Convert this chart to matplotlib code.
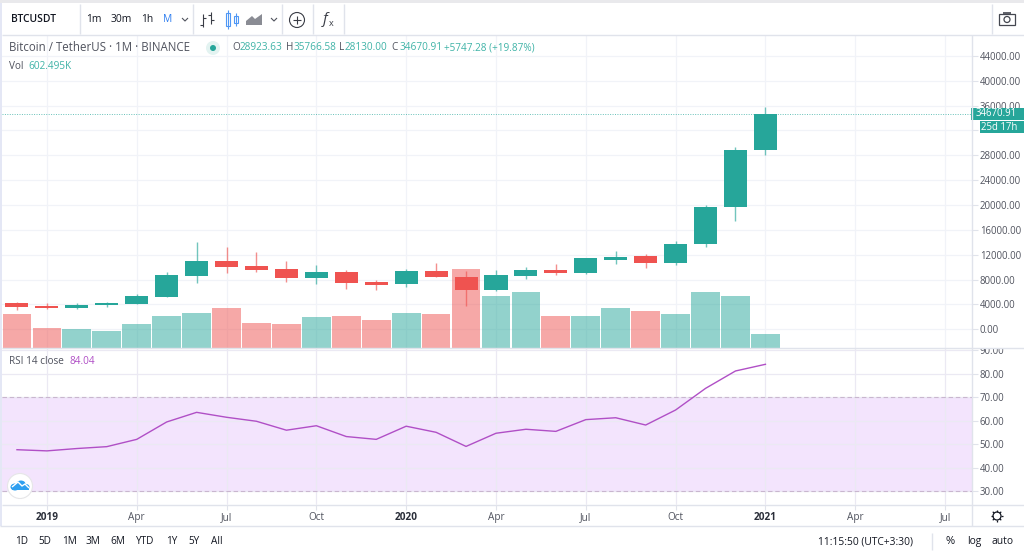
import numpy as np
import matplotlib
matplotlib.use("Agg")
import matplotlib.pyplot as plt
from matplotlib.patches import Rectangle, Circle, Ellipse, Polygon

plt.rcParams['font.family'] = ['Open Sans', 'DejaVu Sans']

W, H = 1024, 555

# monthly candles, Dec 2018 -> Jan 2021
opens = [4170, 3740, 3420, 3850, 4050, 5240, 8570, 10940, 10170, 9690, 8240, 9220, 7610,
         7230, 9370, 8470, 6300, 8570, 9490, 9050, 11220, 11750, 10650, 13660, 19750, 28923.63]
highs = [4330, 4170, 4260, 4320, 5670, 9220, 14050, 13200, 12440, 11000, 10390, 9540, 7930,
         9650, 10620, 9330, 9540, 10070, 10510, 11470, 12540, 12120, 14170, 20020, 29310, 35766.58]
lows = [3090, 3210, 3270, 3620, 4050, 5220, 7490, 9110, 9270, 7660, 7290, 6430, 6320,
        6850, 8370, 3730, 6160, 8070, 8770, 8840, 10510, 9820, 10390, 13200, 17470, 28130]
closes = [3630, 3420, 3950, 4170, 5330, 8690, 10940, 10070, 9590, 8240, 9220, 7490, 7170,
          9370, 8470, 6300, 8670, 9490, 9050, 11430, 11670, 10650, 13660, 19700, 28923, 34670.91]
volumes = [1510, 875, 830, 770, 1075, 1420, 1585, 1780, 1130, 1075, 1360, 1420, 1255,
           1585, 1525, 3550, 2355, 2525, 1420, 1420, 1780, 1645, 1510, 2525, 2325, 602.5]
rsi = [47.7, 47.2, 48.2, 49.0, 52.1, 59.5, 63.6, 61.5, 59.8, 56.0, 57.9, 53.3, 52.1,
       57.7, 55.1, 49.1, 54.7, 56.4, 55.5, 60.5, 61.3, 58.2, 64.6, 73.8, 81.2, 84.04]

price_ticks = [0, 4000, 8000, 12000, 16000, 20000, 24000, 28000, 32000, 36000, 40000, 44000]
rsi_ticks = [30, 40, 50, 60, 70, 80, 90]
time_ticks = [1, 4, 7, 10, 13, 16, 19, 22, 25, 28, 31]
time_labels = ['2019', 'Apr', 'Jul', 'Oct', '2020', 'Apr', 'Jul', 'Oct', '2021', 'Apr', 'Jul']

GREEN = '#26a69a'
RED = '#ef5350'
GRID = '#f1f3f8'
LINE = '#e0e3eb'
TXT = '#50535e'
DARK = '#131722'
ICON = '#3a3d46'
PURPLE = '#b04fc6'


def box(x0, y0, x1, y1):
    # pixel box (y from top) to figure fractions
    return [x0 / W, 1 - y1 / H, (x1 - x0) / W, (y1 - y0) / H]


fig = plt.figure(figsize=(W / 100, H / 100), dpi=100, facecolor='white')

x = np.arange(len(closes))
up = np.array(closes) >= np.array(opens)
xlim = (-0.5, 31.9)

# price pane
ax = fig.add_axes(box(2, 35, 972, 348))
ax.set_xlim(*xlim)
ax.set_ylim(-3027, 47375)
ax_vol = ax.twinx()
ax_c = ax.twinx()
ax_c.set_ylim(ax.get_ylim())
ax_c.set_yticks([])
ax_vol.set_yticks([])
ax_vol.set_ylim(-22, 14156)
ax.yaxis.tick_right()
ax.set_yticks(price_ticks)
# 32000 sits right behind the countdown tag, so no label for it
ax.set_yticklabels(['' if p == 32000 else '%.2f' % p for p in price_ticks], fontsize=6.9, color=TXT)
ax.set_xticks(time_ticks)
ax.tick_params(axis='x', length=0, labelbottom=False)
ax.tick_params(axis='y', length=4, width=0.8, color=LINE, pad=1.5)
ax.grid(True, color=GRID, lw=0.9)
ax.set_axisbelow(True)
for a in (ax, ax_vol, ax_c):
    for s in a.spines.values():
        s.set_visible(False)

colors = [GREEN if u else RED for u in up]
ax_vol.bar(x, volumes, width=0.96, color=colors, alpha=0.5, lw=0)

ax_c.vlines(x, lows, highs, colors=colors, lw=1, alpha=0.65)
ax_c.bar(x, np.abs(np.array(closes) - np.array(opens)), bottom=np.minimum(opens, closes),
         width=0.77, color=colors, lw=0)
ax_c.axhline(closes[-1], color=GREEN, lw=0.7, ls=(0, (1, 1.5)), alpha=0.7)

# rsi pane
ax2 = fig.add_axes(box(2, 349, 972, 504))
ax2.set_xlim(*xlim)
ax2.set_ylim(30 - 12.7 / 2.35, 30 + (491.3 - 349) / 2.35)
ax2.axhspan(30, 70, color='#f3e4fd', lw=0, zorder=0.5)
ax2.axhline(30, color='#c9b6cf', lw=0.8, ls=(0, (4, 2.5)), zorder=1)
ax2.axhline(70, color='#c9b6cf', lw=0.8, ls=(0, (4, 2.5)), zorder=1)
ax2.plot(x, rsi, color=PURPLE, lw=1, zorder=3)
ax2.yaxis.tick_right()
ax2.set_yticks(rsi_ticks)
ax2.set_yticklabels(['%.2f' % r for r in rsi_ticks], fontsize=6.9, color=TXT)
ax2.set_xticks(time_ticks)
ax2.set_xticklabels(time_labels, fontsize=7.2, color=TXT)
for lab, name in zip(ax2.get_xticklabels(), time_labels):
    if name.isdigit():
        lab.set_fontweight('bold')
        lab.set_color('#2a2e39')
ax2.tick_params(axis='x', length=4, width=0.8, color=LINE, pad=1.5)
ax2.tick_params(axis='y', length=4, width=0.8, color=LINE, pad=1.5)
ax2.grid(True, color='#ebe9f3', lw=0.9, zorder=1)
ax2.set_axisbelow(True)
for s in ax2.spines.values():
    s.set_visible(False)

# overlay in pixel coords for the tradingview chrome
ui = fig.add_axes([0, 0, 1, 1], zorder=10)
ui.set_xlim(0, W)
ui.set_ylim(H, 0)
ui.axis('off')
ui.patch.set_visible(False)


def t(px, py, s, color=TXT, size=7.4, ha='left', **kw):
    ui.text(px, py, s, color=color, fontsize=size, ha=ha, va='center', **kw)


def seg(xs, ys, color=LINE, lw=1, **kw):
    ui.plot(xs, ys, color=color, lw=lw, solid_capstyle='butt', **kw)


# borders
ui.add_patch(Rectangle((0, 0), W, 3, color='#e9e9ec', lw=0))
ui.add_patch(Rectangle((0, 3), 2, 523, color='#e4e7f5', lw=0))
ui.add_patch(Rectangle((973, 340), 51, 8, color='white', lw=0))
seg([2, W], [34.5, 34.5])
seg([2, W], [348, 348])
seg([2, W], [504.5, 504.5])
seg([0, W], [526, 526])
seg([972, 972], [35, 526])
for sx in [80, 193, 282, 313, 344, 992]:
    seg([sx, sx], [4, 34])

# toolbar
t(11, 19.5, 'BTCUSDT', DARK, 7.4, fontweight='semibold')
t(86, 19.5, '1m', DARK, 7.4)
t(111, 19.5, '30m', DARK, 7.4)
t(141, 19.5, '1h', DARK, 7.4)
t(163, 19.5, 'M', '#2f7ff0', 7.4)
seg([182, 185, 188], [18, 21, 18], '#50535e', 0.8)
seg([271, 274, 277], [18, 21, 18], '#50535e', 0.8)

# bar icon
seg([203, 203], [14, 27], ICON, 0.8)
seg([200, 203], [25, 25], ICON, 0.8)
seg([203, 206], [18, 18], ICON, 0.8)
seg([211, 211], [12, 24], ICON, 0.8)
seg([208, 211], [15, 15], ICON, 0.8)
seg([211, 214], [20, 20], ICON, 0.8)
# candle icon
ui.add_patch(Rectangle((226, 13), 4, 13, fc='none', ec='#4f97f5', lw=0.8))
seg([228, 228], [10, 29], '#4f97f5', 0.8)
ui.add_patch(Rectangle((234, 16), 4, 7, fc='none', ec='#4f97f5', lw=0.8))
seg([236, 236], [13, 26], '#4f97f5', 0.8)
# area icon
ui.add_patch(Polygon([(246, 25), (246, 21), (252, 16), (255, 19), (262, 14), (262, 25)], color='#8a8c94', lw=0))
# plus
ui.add_patch(Circle((297, 20), 7.5, fc='none', ec=ICON, lw=0.8))
seg([297, 297], [16, 24], ICON, 0.8)
seg([293, 301], [20, 20], ICON, 0.8)
# fx
t(323, 19.5, 'f', ICON, 11, style='italic')
t(329, 24, 'x', ICON, 6.5)
# camera
ui.add_patch(Rectangle((999, 14), 16, 11, fc='none', ec='#444750', lw=0.9))
ui.add_patch(Circle((1007, 19.5), 3, fc='none', ec='#444750', lw=0.9))
seg([1003, 1011], [13, 13], '#444750', 1.2)

# legend rows
t(9, 47.5, 'Bitcoin / TetherUS · 1M · BINANCE', '#50535e', 8.3)
ui.add_patch(Circle((213, 48), 7, color='#e3f3f1', lw=0))
ui.add_patch(Circle((213, 48), 3, color=GREEN, lw=0))
for px, s in [(232, 'O'), (286, 'H'), (339, 'L'), (391, 'C')]:
    t(px, 48, s, TXT, 7.2)
for px, s in [(240, '28923.63'), (294, '35766.58'), (345, '28130.00'), (399, '34670.91'),
              (444, '+5747.28 (+19.87%)')]:
    t(px, 48, s, '#3fb3a7', 7.2)
t(9, 66.5, 'Vol', TXT, 7.2)
t(28, 66.5, '602.495K', '#3fb3a7', 7.2)
t(9, 361, 'RSI 14 close', TXT, 7.2)
t(69, 361, '84.04', PURPLE, 7.2)

# last price tags
ui.add_patch(Rectangle((971, 108), 53, 12, color=GREEN, lw=0))
t(1017, 114, '34670.91', 'white', 6.9, ha='right')
ui.add_patch(Rectangle((980, 121), 44, 12, color=GREEN, lw=0))
t(1017, 127, '25d 17h', 'white', 6.9, ha='right')

# tv logo
ui.add_patch(Circle((20, 486), 12.5, fc='white', ec='#e6e6e8', lw=0.8))
for cx, cy, rx, ry in [(15, 487, 9, 7), (21, 484, 9, 7), (26, 487, 7, 6)]:
    ui.add_patch(Ellipse((cx, cy), rx, ry, color='#2e9ff0', lw=0))
ui.add_patch(Rectangle((12, 486), 17, 4, color='#2e9ff0', lw=0))
seg([12, 18, 22, 25, 29], [487, 482, 486, 484, 488], 'white', 1)

# gear
ui.add_patch(Circle((997, 516), 4, fc='none', ec=DARK, lw=0.9))
for a in np.deg2rad(np.arange(0, 360, 45)):
    seg([997 + 4 * np.cos(a), 997 + 6 * np.cos(a)], [516 + 4 * np.sin(a), 516 + 6 * np.sin(a)], DARK, 0.9)

# bottom bar
for px, s in [(15, '1D'), (38, '5D'), (62, '1M'), (86, '3M'), (110, '6M'), (135, 'YTD'),
              (166, '1Y'), (188, '5Y'), (211, 'All')]:
    t(px, 541.5, s, DARK, 7.2)
t(818, 541.5, '11:15:50 (UTC+3:30)', DARK, 7.4)
seg([932, 932], [533, 550])
t(945, 541.5, '%', DARK, 8)
t(967, 541.5, 'log', DARK, 7.4)
t(992, 541.5, 'auto', DARK, 7.4)

fig.savefig('out.png', dpi=100)
